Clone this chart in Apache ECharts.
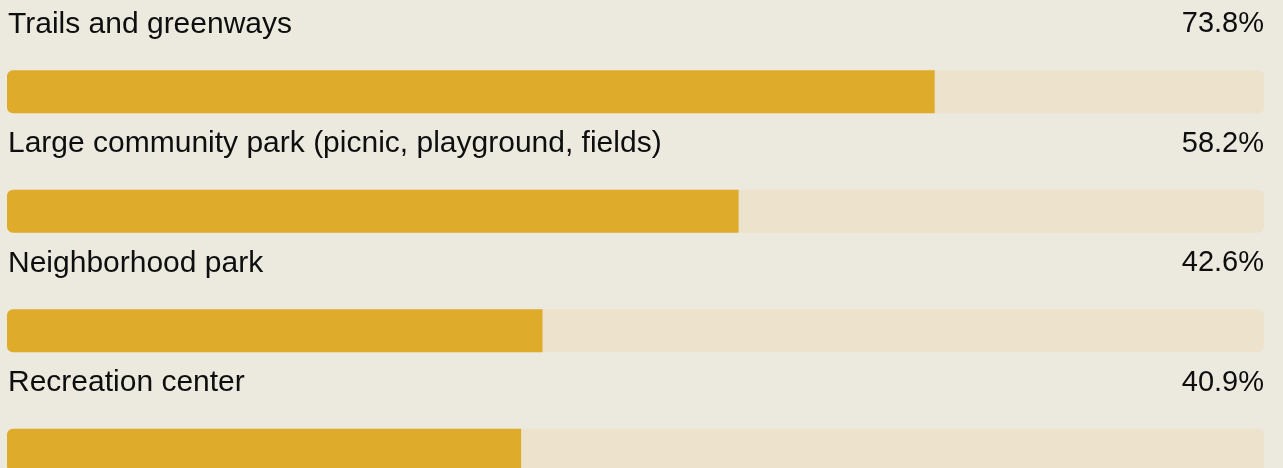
<!DOCTYPE html>
<html>
<head>
<meta charset="utf-8">
<style>
html,body{margin:0;padding:0;background:#ECE9DF;}
#chart{width:1283px;height:468px;}
</style>
<script src="https://cdn.jsdelivr.net/npm/echarts@6/dist/echarts.min.js"></script>
</head>
<body>
<div id="chart"></div>
<script>
const categories = [
  "Trails and greenways",
  "Large community park (picnic, playground, fields)",
  "Neighborhood park",
  "Recreation center"
];
const values = [73.8, 58.2, 42.6, 40.9];
const trackMax = 100;

const chart = echarts.init(document.getElementById('chart'), null, {renderer: 'canvas'});
const FONT = '"Liberation Sans", Arial, Helvetica, sans-serif';
chart.setOption({
  backgroundColor: '#ECE9DF',
  animation: false,
  grid: {left: 7, width: 1257, top: 32, height: 478, containLabel: false, outerBoundsMode: 'none'},
  xAxis: {type: 'value', min: 0, max: trackMax, show: false},
  yAxis: {type: 'category', data: categories, inverse: true, show: false},
  series: [
    {
      name: 'track', type: 'bar', barWidth: 43, barGap: '-100%',
      data: categories.map(() => trackMax),
      itemStyle: {color: '#EDE2CB', borderRadius: 6},
      silent: true,
      label: {
        show: true, position: [1, -46], align: 'left', verticalAlign: 'middle',
        formatter: p => p.name, fontFamily: FONT, fontSize: 30, color: '#0E0E0E'
      },
      z: 1
    },
    {
      name: 'value', type: 'bar', barWidth: 43, barGap: '-100%',
      data: values,
      itemStyle: {color: '#DEAB2B', borderRadius: [6, 0, 0, 6]},
      z: 2
    },
    {
      name: 'pct', type: 'bar', barWidth: 43, barGap: '-100%',
      data: categories.map(() => trackMax),
      itemStyle: {color: 'rgba(0,0,0,0)'},
      silent: true,
      label: {
        show: true, position: ['100%', -46], align: 'right', verticalAlign: 'middle',
        formatter: p => values[p.dataIndex].toFixed(1) + '%',
        fontFamily: FONT, fontSize: 29, color: '#0E0E0E'
      },
      z: 3
    }
  ]
});
</script>
</body>
</html>
